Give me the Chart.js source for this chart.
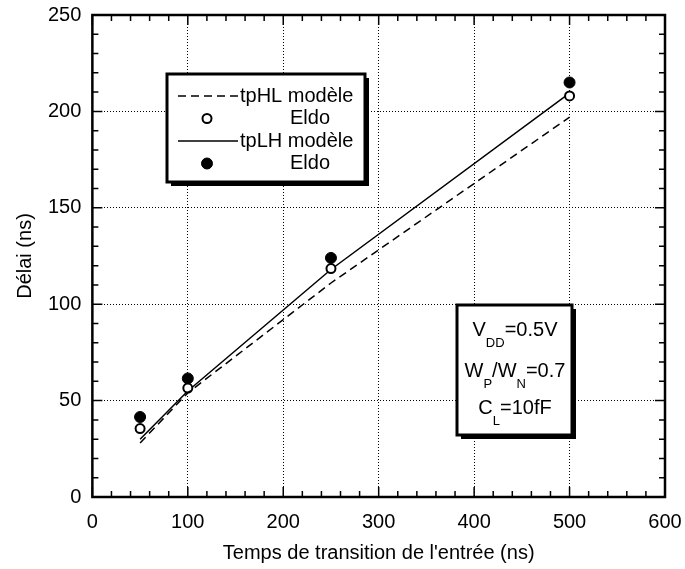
<!DOCTYPE html>
<html>
<head>
<meta charset="utf-8">
<script src="https://cdn.jsdelivr.net/npm/chart.js@4"></script>
<style>
  html, body { margin: 0; padding: 0; background: #fff; }
  #wrap { width: 685px; height: 569px; }
</style>
</head>
<body>
<div id="wrap"><canvas id="delai"></canvas></div>
<script>
// temps de transition (ns) et délais (ns)
const transitions = [50, 100, 250, 500];
const tpHLModele = [28, 54, 111, 197];
const tpHLEldo = [35.5, 56.5, 118.5, 208];
const tpLHModele = [30, 55, 118, 209.5];
const tpLHEldo = [41.5, 61.5, 124, 215];
const xTicks = [0, 100, 200, 300, 400, 500, 600];
const yTicks = [0, 50, 100, 150, 200, 250];
// V_DD=0.5V, W_P/W_N=0.7, C_L=10fF  (texte, indice)
const parametres = [
  [['V', 0], ['DD', 1], ['=0.5V', 0]],
  [['W', 0], ['P', 1], ['/W', 0], ['N', 1], ['=0.7', 0]],
  [['C', 0], ['L', 1], ['=10fF', 0]]
];

const police = '"Liberation Sans", Arial, sans-serif';
Chart.defaults.font.family = police;
Chart.defaults.font.size = 20;
Chart.defaults.color = '#000';

function pts(ys) {
  return transitions.map((x, i) => ({x: x, y: ys[i]}));
}

function boite(ctx, l, t, r, b) {
  ctx.fillStyle = '#000';
  ctx.fillRect(l + 4, t + 4, r - l, b - t);
  ctx.fillStyle = '#fff';
  ctx.fillRect(l, t, r - l, b - t);
  ctx.lineWidth = 3;
  ctx.strokeStyle = '#000';
  ctx.strokeRect(l, t, r - l, b - t);
}

const cadre = {
  id: 'cadre',
  beforeDatasetsDraw(chart) {
    const {ctx, chartArea: a, scales: {x, y}} = chart;
    ctx.save();
    ctx.strokeStyle = '#000';
    ctx.lineWidth = 1.5;
    ctx.beginPath();
    for (let v = x.min; v <= x.max; v += 20) {
      const px = x.getPixelForValue(v);
      const len = v % 100 === 0 ? 10 : 6;
      ctx.moveTo(px, a.bottom); ctx.lineTo(px, a.bottom - len);
      ctx.moveTo(px, a.top); ctx.lineTo(px, a.top + len);
    }
    for (let v = y.min; v <= y.max; v += 10) {
      const py = y.getPixelForValue(v);
      const len = v % 50 === 0 ? 10 : 6;
      ctx.moveTo(a.left, py); ctx.lineTo(a.left + len, py);
      ctx.moveTo(a.right, py); ctx.lineTo(a.right - len, py);
    }
    ctx.stroke();
    ctx.lineWidth = 2.5;
    ctx.strokeRect(a.left, a.top, a.width, a.height);
    ctx.restore();
  }
};

const encadres = {
  id: 'encadres',
  afterDatasetsDraw(chart) {
    const ctx = chart.ctx;
    ctx.save();
    // légende
    boite(ctx, 167, 74, 365, 182);
    ctx.font = '20px ' + police;
    ctx.textBaseline = 'middle';
    ctx.textAlign = 'left';
    chart.data.datasets.forEach((ds, i) => {
      const yy = 96 + i * 22.5;
      if (ds.showLine) {
        ctx.strokeStyle = '#000';
        ctx.lineWidth = ds.borderWidth;
        ctx.setLineDash(ds.borderDash || []);
        ctx.beginPath();
        ctx.moveTo(178, yy);
        ctx.lineTo(238, yy);
        ctx.stroke();
        ctx.setLineDash([]);
        ctx.fillStyle = '#000';
        ctx.fillText(ds.label, 240, yy);
      } else {
        ctx.beginPath();
        ctx.arc(207, yy, ds.pointRadius, 0, Math.PI * 2);
        ctx.fillStyle = ds.pointBackgroundColor;
        ctx.fill();
        ctx.lineWidth = ds.pointBorderWidth;
        ctx.strokeStyle = '#000';
        ctx.stroke();
        ctx.fillStyle = '#000';
        ctx.fillText(ds.label, 290, yy);
      }
    });
    // paramètres
    boite(ctx, 457, 305, 572, 435);
    const lignesY = [330, 371, 408];
    parametres.forEach((segs, i) => {
      let w = 0;
      segs.forEach(([s, sub]) => {
        ctx.font = (sub ? '13px ' : '20px ') + police;
        w += ctx.measureText(s).width;
      });
      let xx = 515 - w / 2;
      segs.forEach(([s, sub]) => {
        ctx.font = (sub ? '13px ' : '20px ') + police;
        ctx.fillStyle = '#000';
        ctx.fillText(s, xx, lignesY[i] + (sub ? 13 : 0));
        xx += ctx.measureText(s).width;
      });
    });
    ctx.restore();
  }
};

function grille(ctx) {
  const t = ctx.tick;
  if (!t) return 'rgba(0,0,0,0)';
  const s = ctx.scale;
  return (t.value === s.min || t.value === s.max) ? 'rgba(0,0,0,0)' : '#000';
}

// les étiquettes extrêmes ne doivent pas rétrécir la zone du graphe
function sansMarge(s) {
  s.paddingLeft = 0;
  s.paddingRight = 0;
  s.paddingTop = 0;
  s.paddingBottom = 0;
}

new Chart(document.getElementById('delai'), {
  type: 'scatter',
  data: {
    datasets: [{
      label: 'tpHL modèle',
      data: pts(tpHLModele),
      showLine: true,
      borderColor: '#000',
      borderWidth: 1.5,
      borderDash: [8, 5],
      pointRadius: 0,
      fill: false
    }, {
      label: 'Eldo',
      data: pts(tpHLEldo),
      showLine: false,
      pointRadius: 4.5,
      pointBorderWidth: 2,
      pointBackgroundColor: '#fff',
      pointBorderColor: '#000'
    }, {
      label: 'tpLH modèle',
      data: pts(tpLHModele),
      showLine: true,
      borderColor: '#000',
      borderWidth: 1.5,
      pointRadius: 0,
      fill: false
    }, {
      label: 'Eldo',
      data: pts(tpLHEldo),
      showLine: false,
      pointRadius: 5.5,
      pointBorderWidth: 1,
      pointBackgroundColor: '#000',
      pointBorderColor: '#000'
    }]
  },
  options: {
    responsive: true,
    maintainAspectRatio: false,
    animation: false,
    layout: { padding: { top: 15, right: 20, left: 0, bottom: 0 } },
    plugins: {
      legend: { display: false },
      tooltip: { enabled: false }
    },
    scales: {
      x: {
        type: 'linear',
        min: 0,
        max: 600,
        afterBuildTicks: s => { s.ticks = xTicks.map(v => ({value: v})); },
        afterFit: sansMarge,
        ticks: { padding: 13, maxRotation: 0 },
        grid: { color: grille, lineWidth: 1, drawTicks: false },
        border: { display: false, dash: [1, 2] },
        title: {
          display: true,
          text: "Temps de transition de l'entrée (ns)",
          padding: { top: -6, bottom: 4 }
        }
      },
      y: {
        type: 'linear',
        min: 0,
        max: 250,
        afterBuildTicks: s => { s.ticks = yTicks.map(v => ({value: v})); },
        afterFit: sansMarge,
        ticks: { padding: 11 },
        grid: { color: grille, lineWidth: 1, drawTicks: false },
        border: { display: false, dash: [1, 2] },
        title: {
          display: true,
          text: 'Délai (ns)',
          padding: { top: 13, bottom: 0 }
        }
      }
    }
  },
  plugins: [cadre, encadres]
});
</script>
</body>
</html>
